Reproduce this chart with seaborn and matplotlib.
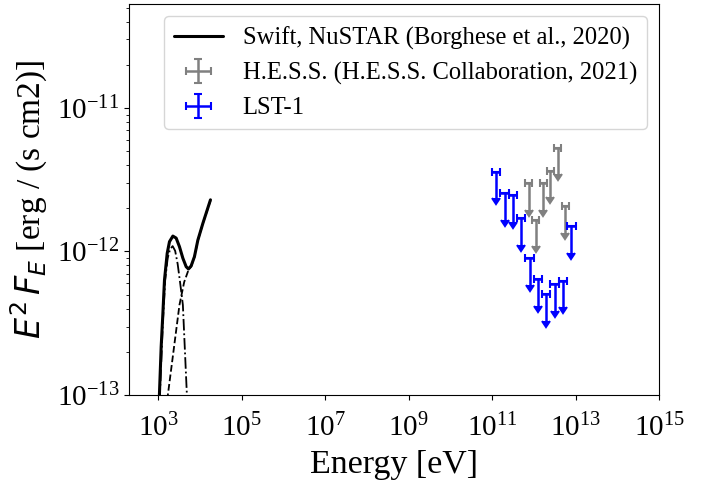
import numpy as np
import matplotlib
matplotlib.use("Agg")
import matplotlib.pyplot as plt
from matplotlib.ticker import NullLocator
import seaborn as sns

# ---------------- data ----------------
# X-ray model: total (solid), thermal component (dash-dot), power-law component (dashed)
xray_energy = [1000, 1074, 1180, 1297, 1416, 1644, 1866, 2249, 2698, 3236, 3908,
               4688, 5321, 6166, 7396, 8933, 11776, 17906]
xray_total = [5.8e-14, 1.03e-13, 2.17e-13, 3.71e-13, 6.32e-13, 9.70e-13, 1.17e-12,
              1.28e-12, 1.24e-12, 1.08e-12, 8.97e-13, 7.83e-13, 7.55e-13, 7.93e-13,
              9.20e-13, 1.20e-12, 1.57e-12, 2.29e-12]

thermal_energy = [1086, 1297, 1472, 1690, 1936, 2223, 2553, 2931, 3365, 3908,
                  4365, 4864, 5093]
thermal_flux = [9.2e-14, 3.23e-13, 6.32e-13, 9.0e-13, 1.04e-12, 1.09e-12, 1.01e-12,
                8.18e-13, 6.03e-13, 4.24e-13, 2.06e-13, 1.02e-13, 6.7e-14]

pl_energy = [1600, 1706, 2350, 3236, 4198, 5321, 6166, 7396, 8933, 11776, 17906]
pl_flux = [7.9e-14, 1.0e-13, 2.06e-13, 4.24e-13, 6.12e-13, 7.43e-13, 7.85e-13,
           9.16e-13, 1.19e-12, 1.57e-12, 2.26e-12]

# H.E.S.S. upper limits
hess_log_energy = [11.879, 12.042, 12.222, 12.397, 12.574, 12.753]
hess_ul = [2.98e-12, 1.67e-12, 3.00e-12, 3.66e-12, 5.29e-12, 2.07e-12]

# LST-1 upper limits
lst_log_energy = [11.1, 11.3, 11.5, 11.7, 11.9, 12.1, 12.3, 12.5, 12.7, 12.9]
lst_ul = [3.60e-12, 2.55e-12, 2.48e-12, 1.70e-12, 8.98e-13, 6.40e-13, 5.06e-13,
          5.94e-13, 6.27e-13, 1.51e-12]

x_ticks = [1e3, 1e5, 1e7, 1e9, 1e11, 1e13, 1e15]

labels = ["Swift, NuSTAR (Borghese et al., 2020)",
          "H.E.S.S. (H.E.S.S. Collaboration, 2021)",
          "LST-1"]

# ---------------- style ----------------
sns.set_style("ticks")
plt.rcParams.update({
    "font.family": ["Liberation Serif", "DejaVu Serif"],
    "axes.edgecolor": "black",
    "xtick.color": "black",
    "ytick.color": "black",
    "text.color": "black",
    "axes.labelcolor": "black",
    "xtick.major.size": 3.5,
    "ytick.major.size": 3.5,
    "xtick.minor.size": 2,
    "ytick.minor.size": 2,
    "xtick.major.width": 0.8,
    "ytick.major.width": 0.8,
    "axes.linewidth": 0.8,
    "mathtext.fontset": "dejavusans",
})

fig, ax = plt.subplots(figsize=(7.07, 4.82), dpi=100)
fig.subplots_adjust(left=129 / 707, right=659 / 707, top=1 - 4 / 482, bottom=1 - 395 / 482)

ax.set_xscale("log")
ax.set_yscale("log")

sns.lineplot(x=xray_energy, y=xray_total, ax=ax, color="black", linewidth=2.2,
             sort=False, label=labels[0])
sns.lineplot(x=thermal_energy, y=thermal_flux, ax=ax, color="black", linewidth=1.3,
             linestyle="-.", sort=False)
sns.lineplot(x=pl_energy, y=pl_flux, ax=ax, color="black", linewidth=1.3,
             linestyle="--", sort=False)

def ul(ax, log_e, flux, half_dex, color, label):
    e = 10 ** np.asarray(log_e)
    f = np.asarray(flux)
    xerr = [e * (1 - 10 ** (-half_dex)), e * (10 ** half_dex - 1)]
    ax.errorbar(e, f, xerr=xerr, yerr=0.35 * f, uplims=True, fmt="none",
                color=color, ecolor=color, elinewidth=1.8, capsize=3, capthick=1.5,
                label=label)

ul(ax, hess_log_energy, hess_ul, 0.085, "gray", labels[1])
ul(ax, lst_log_energy, lst_ul, 0.1, "blue", labels[2])

ax.set_xlim(200, 1e15)
ax.set_ylim(1e-13, 5.3e-11)
ax.set_xticks(x_ticks)
ax.xaxis.set_minor_locator(NullLocator())
ax.set_xlabel("Energy [eV]", fontsize=24.5, labelpad=5)
ax.set_ylabel(r"$E^2\,F_E$ [erg / (s cm2)]", fontsize=24, labelpad=5)
ax.tick_params(axis="both", which="major", labelsize=21)
ax.tick_params(axis="x", which="major", pad=10)

ax.legend(loc="upper right", fontsize=17.7)

fig.savefig("out.png", dpi=100)
